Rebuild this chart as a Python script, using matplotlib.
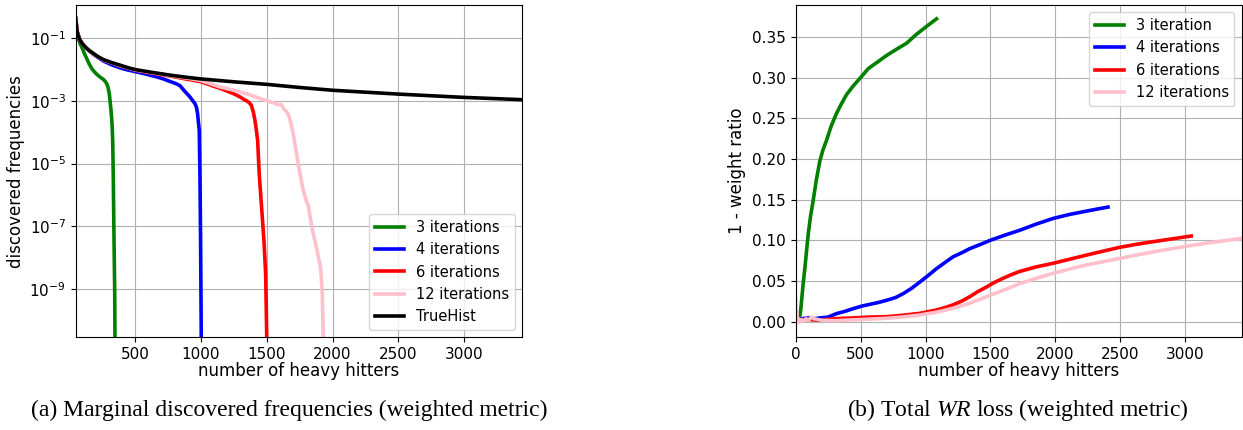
import matplotlib
matplotlib.use("Agg")
import matplotlib.pyplot as plt

plt.rcParams['mathtext.fontset'] = 'custom'
plt.rcParams['mathtext.it'] = 'Liberation Serif:italic'
plt.rcParams['mathtext.rm'] = 'Liberation Serif'

# ---- (a) marginal discovered frequencies (log scale) ----
true_x = [50, 55, 62, 70, 83, 100, 121, 150, 184, 220, 260, 320, 386, 440, 500, 630, 766,
          880, 993, 1250, 1500, 1750, 2000, 2500, 3000, 3440]
true_y = [0.44, 0.26, 0.16, 0.12, 0.088, 0.068, 0.054, 0.042, 0.033, 0.026, 0.021, 0.017,
          0.014, 0.0118, 0.0101, 0.0082, 0.0067, 0.0058, 0.0051, 0.0041, 0.0034, 0.0027,
          0.0022, 0.00166, 0.0013, 0.0011]

it3_x = [50, 60, 70, 82, 95, 113, 133, 150, 171, 190, 209, 235, 260, 275, 285, 295, 305,
         312, 318, 323, 327, 331, 335, 341, 346, 348, 349]
it3_y = [0.33, 0.17, 0.1, 0.07, 0.054, 0.035, 0.023, 0.016, 0.011, 0.0087, 0.0072, 0.0058,
         0.0049, 0.0042, 0.0036, 0.0028, 0.0017, 9e-4, 5e-4, 2.8e-4, 1.5e-4, 5e-5, 4.7e-6,
         3.4e-8, 8.6e-10, 3e-11, 1e-13]

it4_x = [50, 62, 83, 121, 184, 260, 320, 386, 440, 500, 580, 665, 720, 766, 810, 841, 867,
         895, 917, 940, 955, 967, 975, 982, 988, 993, 998, 1003, 1005]
it4_y = [0.44, 0.16, 0.086, 0.052, 0.031, 0.019, 0.0145, 0.0115, 0.0099, 0.0087, 0.0073,
         0.0059, 0.0050, 0.0042, 0.0036, 0.0031, 0.0023, 0.0017, 0.00135, 0.001, 8.3e-4,
         6.2e-4, 4e-4, 2e-4, 1.15e-4, 4.7e-6, 3.4e-8, 3e-11, 1e-13]

it6_x = [50, 62, 83, 121, 184, 260, 386, 500, 630, 766, 880, 993, 1050, 1094, 1150, 1196,
         1250, 1297, 1330, 1360, 1382, 1398, 1410, 1418, 1431, 1443, 1461, 1479, 1492,
         1500, 1502]
it6_y = [0.44, 0.16, 0.087, 0.053, 0.032, 0.0205, 0.0135, 0.0097, 0.0078, 0.0063, 0.0051,
         0.0042, 0.0035, 0.003, 0.0025, 0.0021, 0.0017, 0.00135, 0.0011, 9.4e-4, 7.5e-4,
         4.5e-4, 2.5e-4, 1.5e-4, 5.5e-5, 4.7e-6, 4e-7, 3.4e-8, 2.9e-9, 3e-11, 1e-13]

it12_x = [50, 62, 83, 121, 184, 260, 386, 500, 630, 766, 880, 993, 1070, 1145, 1250, 1348,
          1449, 1525, 1560, 1588, 1610, 1630, 1650, 1667, 1685, 1701, 1720, 1739, 1758,
          1777, 1800, 1815, 1832, 1848, 1865, 1883, 1900, 1909, 1921, 1929, 1931]
it12_y = [0.44, 0.16, 0.087, 0.053, 0.032, 0.0205, 0.0135, 0.0098, 0.008, 0.0065, 0.0055,
          0.0046, 0.0036, 0.0028, 0.0022, 0.0017, 0.0012, 9.4e-4, 8.5e-4, 7.6e-4, 7.8e-4,
          5.5e-4, 4.6e-4, 3.5e-4, 1.8e-4, 9e-5, 3e-5, 9.8e-6, 3.6e-6, 1.4e-6, 6.5e-7,
          4.6e-7, 1.7e-7, 7.2e-8, 3.5e-8, 1.63e-8, 7e-9, 4.8e-9, 8.5e-10, 3e-11, 1e-13]

# ---- (b) total WR loss ----
w3_x = [33, 40, 46, 58, 72, 85, 97, 115, 135, 160, 187, 210, 238, 275, 315, 350, 392, 440,
        495, 560, 630, 700, 780, 854, 930, 1010, 1085]
w3_y = [0.008, 0.016, 0.0266, 0.047, 0.0675, 0.089, 0.108, 0.13, 0.149, 0.175, 0.198,
        0.211, 0.223, 0.241, 0.256, 0.267, 0.279, 0.289, 0.299, 0.311, 0.319, 0.327,
        0.335, 0.342, 0.353, 0.363, 0.372]

w4_x = [0, 20, 50, 100, 150, 187, 250, 315, 380, 443, 510, 572, 640, 700, 770, 828, 890,
        956, 1020, 1085, 1150, 1212, 1280, 1341, 1420, 1495, 1610, 1725, 1850, 1982, 2110,
        2238, 2320, 2405]
w4_y = [0.004, 0.003, 0.004, 0.005, 0.004, 0.005, 0.006, 0.0103, 0.013, 0.0164, 0.0195,
        0.0217, 0.024, 0.0266, 0.030, 0.0348, 0.041, 0.049, 0.057, 0.0655, 0.073, 0.080,
        0.085, 0.090, 0.095, 0.100, 0.1065, 0.1125, 0.12, 0.127, 0.132, 0.136, 0.1385,
        0.141]

w6_x = [0, 20, 50, 100, 187, 300, 443, 570, 700, 830, 956, 1085, 1150, 1212, 1280, 1341,
        1400, 1470, 1530, 1597, 1660, 1725, 1850, 1982, 2110, 2238, 2370, 2495, 2620,
        2751, 2900, 3046]
w6_y = [0.003, 0.002, 0.003, 0.003, 0.002, 0.004, 0.005, 0.006, 0.0065, 0.0083, 0.0106,
        0.0147, 0.0177, 0.021, 0.0257, 0.031, 0.037, 0.043, 0.0485, 0.0536, 0.058, 0.062,
        0.0675, 0.072, 0.077, 0.082, 0.087, 0.0916, 0.0952, 0.0985, 0.102, 0.1055]

w12_x = [0, 3, 8, 12, 20, 30, 45, 60, 80, 100, 120, 140, 170, 200, 300, 500, 700, 830,
         956, 1085, 1212, 1340, 1470, 1600, 1725, 1850, 1982, 2110, 2238, 2370, 2495,
         2620, 2751, 2880, 3008, 3220, 3437, 3500]
w12_y = [0.027, 0.0, 0.012, -0.001, 0.004, 0.0, 0.003, 0.001, 0.004, 0.002, 0.006, 0.004,
         0.003, 0.002, 0.0016, 0.003, 0.0045, 0.0062, 0.0086, 0.012, 0.0168, 0.023, 0.031,
         0.039, 0.047, 0.0535, 0.0597, 0.065, 0.070, 0.074, 0.078, 0.082, 0.086, 0.0895,
         0.093, 0.098, 0.1026, 0.1035]

fig = plt.figure(figsize=(12.43, 4.3), dpi=100)
ax1 = fig.add_axes([0.0609, 0.2156, 0.3593, 0.7728])
ax2 = fig.add_axes([0.6401, 0.2156, 0.3589, 0.7728])

fs = 12
tfs = 11
lfs = 10.5
lw = 2.6

ax1.plot(it3_x, it3_y, color='green', lw=lw, label='3 iterations')
ax1.plot(it4_x, it4_y, color='blue', lw=lw, label='4 iterations')
ax1.plot(it6_x, it6_y, color='red', lw=lw, label='6 iterations')
ax1.plot(it12_x, it12_y, color='pink', lw=lw, label='12 iterations')
ax1.plot(true_x, true_y, color='black', lw=lw, label='TrueHist')
ax1.set_yscale('log')
ax1.set_xlim(50, 3440)
ax1.set_ylim(2.8e-11, 1.17)
ax1.set_yticks([1e-1, 1e-3, 1e-5, 1e-7, 1e-9])
ax1.minorticks_off()
ax1.set_xticks([500, 1000, 1500, 2000, 2500, 3000])
ax1.grid(True)
ax1.set_xlabel('number of heavy hitters', fontsize=fs, labelpad=0)
ax1.set_ylabel('discovered frequencies', fontsize=fs, labelpad=3)
ax1.tick_params(labelsize=tfs)
ax1.legend(loc='lower right', fontsize=lfs)

ax2.plot(w3_x, w3_y, color='green', lw=lw, label='3 iteration')
ax2.plot(w4_x, w4_y, color='blue', lw=lw, label='4 iterations')
ax2.plot(w6_x, w6_y, color='red', lw=lw, label='6 iterations')
ax2.plot(w12_x, w12_y, color='pink', lw=lw, label='12 iterations')
ax2.set_xlim(0, 3435)
ax2.set_ylim(-0.0188, 0.389)
ax2.set_yticks([0.0, 0.05, 0.10, 0.15, 0.20, 0.25, 0.30, 0.35])
ax2.set_xticks([0, 500, 1000, 1500, 2000, 2500, 3000])
ax2.grid(True)
ax2.set_xlabel('number of heavy hitters', fontsize=fs, labelpad=0)
ax2.set_ylabel('1 - weight ratio', fontsize=fs, labelpad=4)
ax2.tick_params(labelsize=tfs)
ax2.legend(loc='upper right', fontsize=lfs)

fig.text(0.233, 0.046, '(a) Marginal discovered frequencies (weighted metric)',
         ha='center', va='center', fontsize=17, family='Liberation Serif')
fig.text(0.819, 0.046, '(b) Total $WR$ loss (weighted metric)',
         ha='center', va='center', fontsize=17, family='Liberation Serif')

fig.savefig('out.png', dpi=100)
